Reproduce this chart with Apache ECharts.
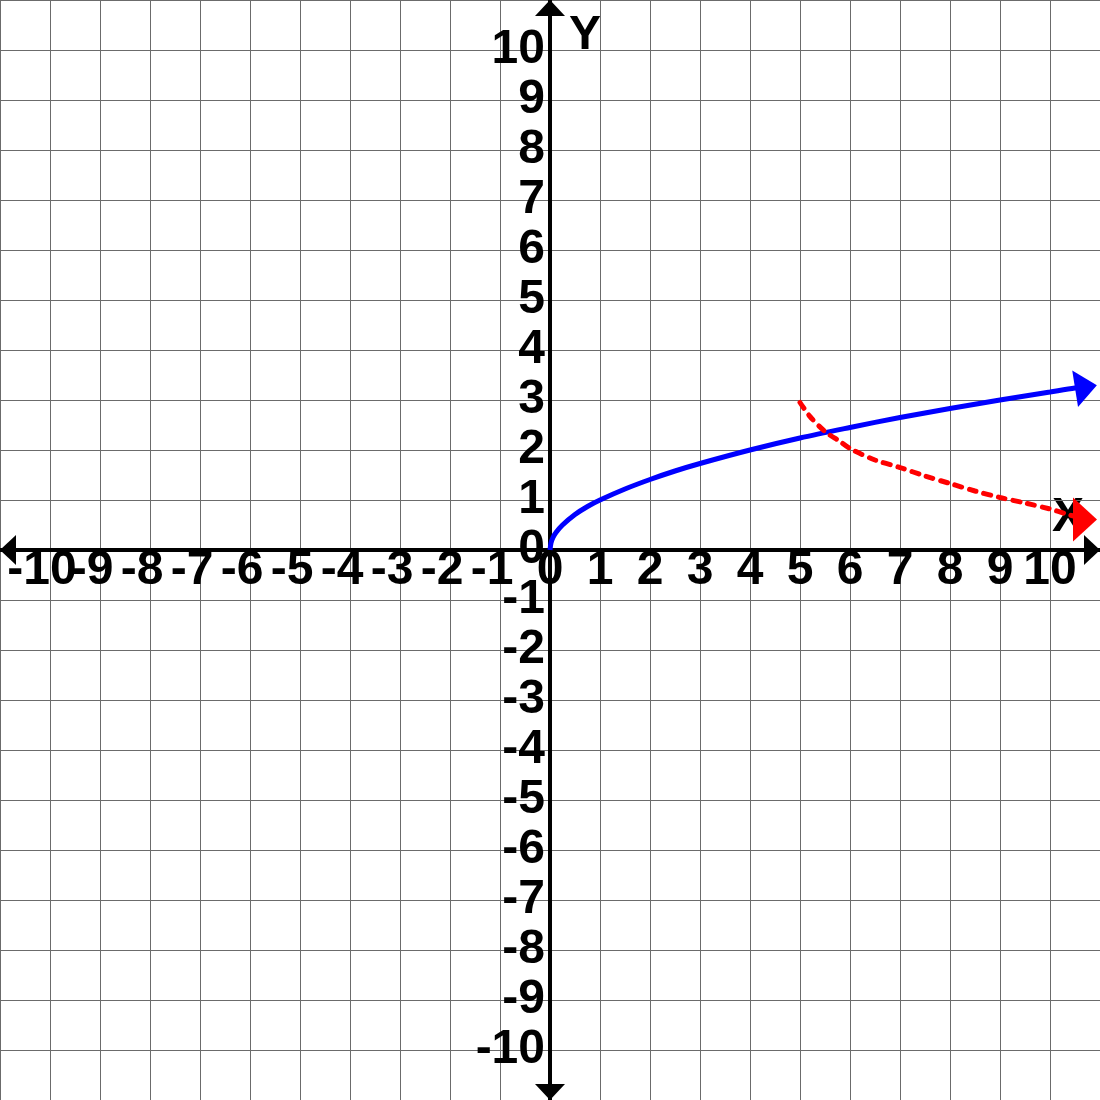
<!DOCTYPE html>
<html>
<head>
<meta charset="utf-8">
<script src="https://cdn.jsdelivr.net/npm/echarts@6/dist/echarts.min.js"></script>
<style>
html,body{margin:0;padding:0;background:#fff;}
#chart{width:1100px;height:1100px;}
</style>
</head>
<body>
<div id="chart"></div>
<script>
// Axis range and tick labels
const axisMin = -11;
const axisMax = 11;
const tickStep = 1;
const labelLimit = 10;
const xAxisTitle = 'X';
const yAxisTitle = 'Y';

// Blue solid curve (ends with arrowhead at last point)
const blueX = [0, 0.02, 0.06, 0.12, 0.25, 0.5, 0.75, 1, 1.5, 2, 2.5, 3, 4, 5, 6, 7, 8, 9, 10, 10.5, 10.72];
const blueY = [0, 0.14, 0.25, 0.35, 0.5, 0.71, 0.87, 1, 1.22, 1.41, 1.58, 1.73, 2, 2.24, 2.45, 2.65, 2.83, 3, 3.16, 3.24, 3.26];

// Red dashed curve (ends with arrowhead at last point)
const redX = [5, 5.2, 5.5, 5.8, 6, 6.5, 7, 7.5, 8, 8.5, 9, 9.5, 10, 10.33, 10.7];
const redY = [2.95, 2.67, 2.37, 2.17, 2.03, 1.80, 1.65, 1.48, 1.33, 1.18, 1.05, 0.94, 0.82, 0.72, 0.61];

const FONT = 'Liberation Sans';
const blueData = blueX.map((x, i) => [x, blueY[i]]);
const redData = redX.map((x, i) => [x, redY[i]]);

const chart = echarts.init(document.getElementById('chart'), null, {renderer: 'canvas'});

const gridLine = {show: true, lineStyle: {color: '#6b6b6b', width: 1}};
const axisLineStyle = {
  show: true, onZero: false,
  symbol: ['triangle', 'triangle'],
  symbolSize: [30, 16],
  symbolOffset: [8, -8],
  lineStyle: {color: '#000', width: 4}
};

chart.setOption({
  animation: false,
  backgroundColor: '#fff',
  grid: {left: 0, right: 0, top: 0, bottom: 0, containLabel: false, outerBoundsMode: 'none'},
  xAxis: {
    type: 'value', min: axisMin, max: axisMax, interval: tickStep,
    position: 'bottom', offset: -550,
    axisLine: axisLineStyle,
    axisTick: {show: false},
    splitLine: gridLine,
    axisLabel: {
      show: true, margin: -3, hideOverlap: false,
      fontFamily: FONT, fontWeight: 'bold', fontSize: 48, color: '#000',
      formatter: v => Math.abs(v) > labelLimit ? '' : (v < 0 ? '-' + (-v) + '{p|}' : String(v)),
      rich: {p: {width: 16, fontFamily: FONT, fontWeight: 'bold', fontSize: 48}}
    }
  },
  yAxis: {
    type: 'value', min: axisMin, max: axisMax, interval: tickStep,
    position: 'left', offset: -550,
    axisLine: axisLineStyle,
    axisTick: {show: false},
    splitLine: gridLine,
    axisLabel: {
      show: true, margin: 5, hideOverlap: false,
      fontFamily: FONT, fontWeight: 'bold', fontSize: 48, color: '#000',
      formatter: v => Math.abs(v) > labelLimit ? '' : String(v)
    }
  },
  graphic: [
    {type: 'text', left: 1052, top: 494, z: 0,
     style: {text: xAxisTitle, font: 'bold 48px "Liberation Sans"', fill: '#000'}},
    {type: 'text', left: 569, top: 12, z: 0,
     style: {text: yAxisTitle, font: 'bold 48px "Liberation Sans"', fill: '#000'}}
  ],
  series: [
    {
      type: 'line', data: blueData, smooth: 0.3, z: 5,
      symbol: (v, p) => p.dataIndex === blueData.length - 1 ? 'triangle' : 'none',
      symbolSize: [37, 22], symbolRotate: -81,
      showAllSymbol: true,
      lineStyle: {color: '#0000ff', width: 5},
      itemStyle: {color: '#0000ff', borderWidth: 0}
    },
    {
      type: 'line', data: redData, smooth: 0.3, z: 6,
      symbol: (v, p) => p.dataIndex === redData.length - 1 ? 'triangle' : 'none',
      symbolSize: [44, 24], symbolRotate: -90,
      showAllSymbol: true,
      lineStyle: {color: '#ff0000', width: 5, type: [7, 8], cap: 'round'},
      itemStyle: {color: '#ff0000', borderWidth: 0}
    }
  ]
});
</script>
</body>
</html>
